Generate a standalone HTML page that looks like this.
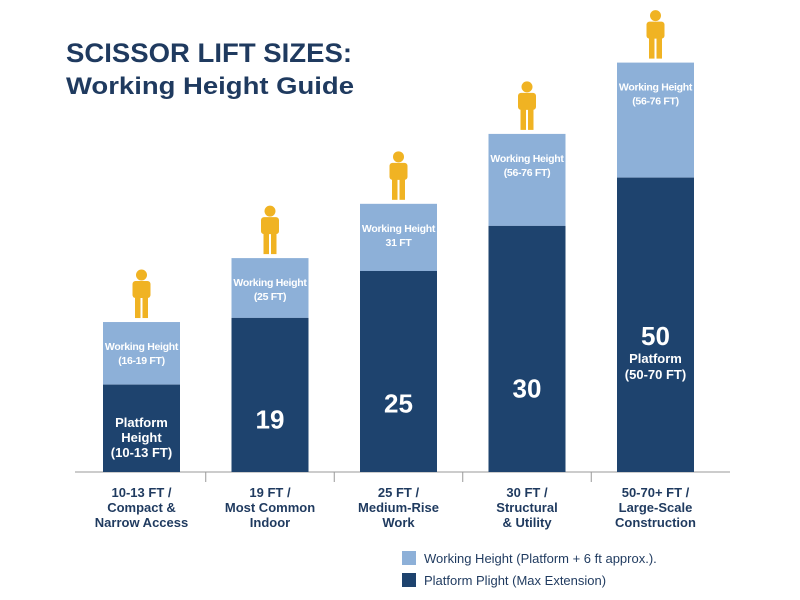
<!DOCTYPE html>
<html><head><meta charset="utf-8"><style>
body{margin:0;background:#fff;font-family:"Liberation Sans",sans-serif}
#c{position:relative;width:800px;height:600px;overflow:hidden;background:#fff}
</style></head><body>
<div id="c">
<svg id="s" width="800" height="600">
<text x="209" y="62" text-anchor="middle" font-size="27" font-weight="bold" fill="#1f3a5f" textLength="286" lengthAdjust="spacingAndGlyphs">SCISSOR LIFT SIZES:</text>
<text x="210" y="94" text-anchor="middle" font-size="24" font-weight="bold" fill="#1f3a5f" textLength="288" lengthAdjust="spacingAndGlyphs">Working Height Guide</text>
<line x1="75" y1="472" x2="730" y2="472" stroke="#999" stroke-width="1"/>
<rect x="402" y="551" width="14" height="14" fill="#8db0d8"/>
<text x="424" y="563" font-size="13" fill="#1f3a5f">Working Height (Platform + 6 ft approx.).</text>
<rect x="402" y="573" width="14" height="14" fill="#1e436e"/>
<text x="424" y="585" font-size="13" fill="#1f3a5f">Platform Plight (Max Extension)</text>
</svg>
</div>
<script>
const categories = [["10-13 FT /","Compact &","Narrow Access"],["19 FT /","Most Common","Indoor"],["25 FT /","Medium-Rise","Work"],["30 FT /","Structural","& Utility"],["50-70+ FT /","Large-Scale","Construction"]];
const platformValues = [19, 33.5, 43.7, 53.5, 64];
const workingValues = [32.6, 46.5, 58.3, 73.5, 89];
const platformLabels = [["Platform","Height","(10-13 FT)"],["19"],["25"],["30"],["50","Platform","(50-70 FT)"]];
const workingLabels = [["Working Height","(16-19 FT)"],["Working Height","(25 FT)"],["Working Height","31 FT"],["Working Height","(56-76 FT)"],["Working Height","(56-76 FT)"]];
const NS="http://www.w3.org/2000/svg";
const svg=document.getElementById('s');
const base=472, k=4.6, x0=141.5, step=128.5, bw=77;
const y=v=>base-v*k;
const xc=i=>x0+i*step;
function mk(t,a){const e=document.createElementNS(NS,t);for(const n in a)e.setAttribute(n,a[n]);svg.appendChild(e);return e;}
for(let i=0;i<categories.length;i++){
  const cx=xc(i);
  let r=mk('rect',{x:cx-bw/2,y:y(workingValues[i]),width:bw,height:(workingValues[i]-platformValues[i])*k,fill:'#8db0d8'});
  
  
  r=mk('rect',{x:cx-bw/2,y:y(platformValues[i]),width:bw,height:platformValues[i]*k,fill:'#1e436e'});
  
  
  const wt=y(workingValues[i]);
  workingLabels[i].forEach((s,j)=>{const t=mk('text',{x:cx,y:wt+28+j*14,'text-anchor':'middle','font-size':10.5,'font-weight':'bold',fill:'#fff','letter-spacing':'-0.3'});t.textContent=s;
    
    });
  const pt=y(platformValues[i]), h=base-pt, mid=(pt+base)/2;
  const pl=platformLabels[i];
  if(pl.length===1){const t=mk('text',{x:cx,y:mid+0.16*h+9,'text-anchor':'middle','font-size':26,'font-weight':'bold',fill:'#fff'});t.textContent=pl[0];
    
    }
  else if(i===0){pl.forEach((s,j)=>{const t=mk('text',{x:cx,y:base-45+j*15,'text-anchor':'middle','font-size':13,'font-weight':'bold',fill:'#fff'});t.textContent=s;
    
    });}
  else{let t=mk('text',{x:cx,y:mid+20,'text-anchor':'middle','font-size':26,'font-weight':'bold',fill:'#fff'});t.textContent=pl[0];
    
    
    [pl[1],pl[2]].forEach((s,j)=>{const u=mk('text',{x:cx,y:mid+38+j*16,'text-anchor':'middle','font-size':13,'font-weight':'bold',fill:'#fff'});u.textContent=s;
      
      });}
  const g=mk('g',{fill:'#f0b323',transform:`translate(${cx},${wt-52})`});
  
  
  g.innerHTML='<circle cx="0" cy="5" r="5.5"/><rect x="-9" y="11" width="18" height="17" rx="3"/><rect x="-6.5" y="26" width="5.5" height="22"/><rect x="1" y="26" width="5.5" height="22"/>';
  categories[i].forEach((s,j)=>{const t=mk('text',{x:cx,y:497+j*15,'text-anchor':'middle','font-size':13,'font-weight':'bold',fill:'#1f3a5f'});t.textContent=s;
    
    });
  if(i>0){const l=mk('line',{x1:cx-step/2,y1:472,x2:cx-step/2,y2:482,stroke:'#999'});
    
    }
}
</script>
</body></html>
